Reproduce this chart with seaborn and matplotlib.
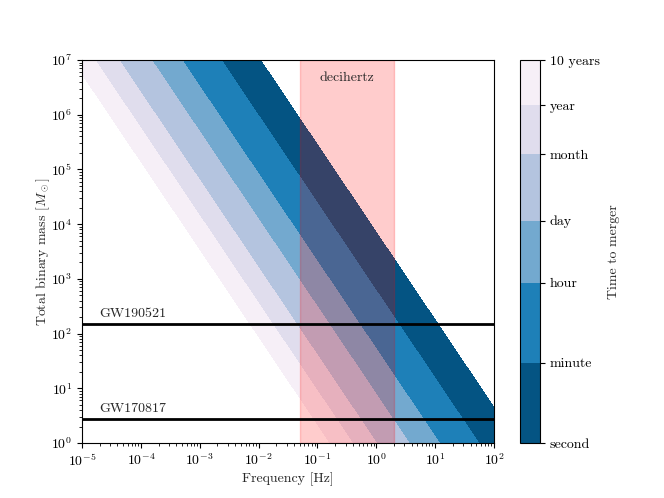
import numpy as np
import matplotlib
matplotlib.use("Agg")
import matplotlib.pyplot as plt
import seaborn as sns

# Time-to-merger levels (seconds) and their colourbar labels
time_levels = [1, 60, 3600, 86400, 30 * 86400, 365.25 * 86400, 3652.5 * 86400]
time_labels = ['second', 'minute', 'hour', 'day', 'month', 'year', '10 years']

# Reference events (total mass in solar masses)
event_names = ['GW190521', 'GW170817']
event_masses = [150, 2.74]

# Decihertz band [Hz]
band_edges = [0.05, 2.0]

# Axis ranges
freq_range = [1e-5, 1e2]
mass_range = [1, 1e7]

sns.set_style("ticks")
plt.rcParams['font.family'] = 'serif'
plt.rcParams['font.serif'] = ['cmr10']
plt.rcParams['mathtext.fontset'] = 'cm'
plt.rcParams['axes.formatter.use_mathtext'] = True
plt.rcParams['axes.edgecolor'] = 'black'
plt.rcParams['xtick.color'] = 'black'
plt.rcParams['ytick.color'] = 'black'
plt.rcParams['axes.unicode_minus'] = False

# Grid of frequency / total mass, time to merger for equal-mass binary
f = np.logspace(np.log10(freq_range[0]), np.log10(freq_range[1]), 500)
M = np.logspace(np.log10(mass_range[0]), np.log10(mass_range[1]), 500)
F, MM = np.meshgrid(f, M)
GMsun_c3 = 4.925e-6
Mc = MM * 0.25 ** 0.6
t = 5 / 256 * (GMsun_c3 * Mc) ** (-5 / 3) * (np.pi * F) ** (-8 / 3)
logt = np.log10(t)

fig = plt.figure(figsize=(6.64, 4.98), dpi=100)
ax = fig.add_axes([0.1235, 0.1104, 0.6205, 0.7691])
cax = fig.add_axes([0.783, 0.1104, 0.0301, 0.7691])

cmap = sns.color_palette("PuBu_r", as_cmap=True)
cs = ax.contourf(F, MM, logt, levels=np.log10(time_levels), cmap=cmap)

ax.set_xscale('log')
ax.set_yscale('log')
ax.set_xlim(freq_range)
ax.set_ylim(mass_range)

ax.axvspan(band_edges[0], band_edges[1], color='red', alpha=0.2)
ax.text(np.sqrt(band_edges[0] * band_edges[1]), 6e6, 'decihertz',
        ha='center', va='top', fontsize=10)

for name, m in zip(event_names, event_masses):
    ax.axhline(m, color='black', lw=2)
    ax.text(2e-5, m * 1.2, name, ha='left', va='bottom', fontsize=10)

ax.set_xlabel('Frequency [Hz]', labelpad=2.5)
ax.set_ylabel(r'Total binary mass [$M_\odot$]', labelpad=-1)

cb = fig.colorbar(cs, cax=cax, ticks=np.log10(time_levels), spacing='proportional')
cb.ax.set_yticklabels(time_labels)
cb.set_label('Time to merger', labelpad=6)

sns.despine(ax=ax, top=False, right=False)
fig.savefig('out.png', dpi=100)
